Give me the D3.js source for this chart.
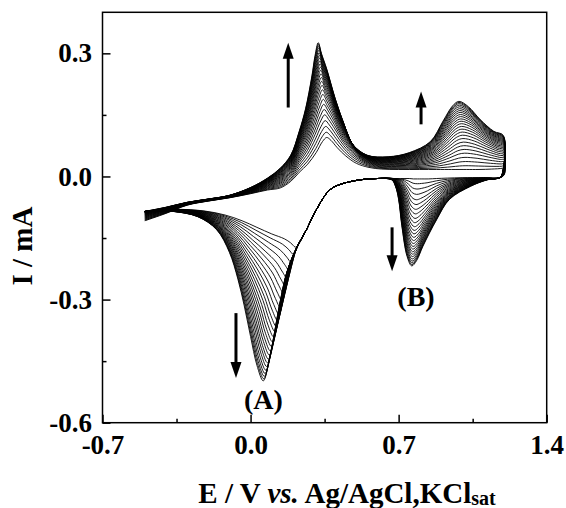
<!DOCTYPE html>
<html lang="en">
<head>
<meta charset="UTF-8">
<title>CV cycles</title>
<script src="https://d3js.org/d3.v7.min.js"></script>
<style>
  body { margin: 0; background: #fff; }
  svg text { font-family: "Liberation Serif", "Times New Roman", serif; font-weight: bold; fill: #000; }
  .cycle { fill: none; stroke: #000; stroke-width: 0.9px; stroke-linejoin: round; }
  .axis path { display: none; }
  .axis line { stroke: #000; stroke-width: 1.5px; }
  .frame { fill: none; stroke: #000; stroke-width: 1.5px; }
</style>
</head>
<body>
<script>
  // first cycle (inner) and last cycle (outer): forward sweep -0.5 -> 1.2 V, then back
  const firstE = [-0.50, -0.40, -0.30, -0.20, -0.10, 0.00, 0.08, 0.14, 0.19, 0.23, 0.27, 0.31, 0.34, 0.36, 0.38,
    0.41, 0.45, 0.50, 0.56, 0.62, 0.70, 0.80, 0.88, 0.95, 0.99, 1.02, 1.08, 1.14, 1.19, 1.20,
    1.20, 1.18, 1.10, 1.00, 0.93, 0.88, 0.84, 0.81, 0.79, 0.77, 0.75, 0.73, 0.71, 0.69, 0.60, 0.52, 0.42, 0.37,
    0.31, 0.265, 0.235, 0.225, 0.22, 0.215, 0.21, 0.19, 0.16, 0.10, 0.03, -0.04, -0.12, -0.22, -0.35, -0.45, -0.50];
  const firstI = [-0.108, -0.090, -0.070, -0.060, -0.052, -0.042, -0.033, -0.028, -0.012, 0.010, 0.030, 0.058, 0.085, 0.095, 0.088,
    0.070, 0.050, 0.032, 0.022, 0.018, 0.017, 0.017, 0.017, 0.017, 0.017, 0.017, 0.017, 0.018, 0.020, 0.022,
    0.005, -0.003, -0.003, -0.003, -0.004, -0.005, -0.006, -0.006, -0.006, -0.006, -0.005, -0.005, -0.005, -0.005, -0.005, -0.008, -0.020, -0.035,
    -0.082, -0.129, -0.158, -0.166, -0.170, -0.172, -0.172, -0.162, -0.152, -0.140, -0.124, -0.108, -0.094, -0.084, -0.080, -0.082, -0.085];
  const lastE = [-0.50, -0.40, -0.30, -0.20, -0.10, 0.00, 0.08, 0.14, 0.19, 0.23, 0.26, 0.29, 0.305, 0.32, 0.335,
    0.36, 0.40, 0.44, 0.48, 0.55, 0.65, 0.75, 0.85, 0.91, 0.955, 0.985, 1.03, 1.085, 1.15, 1.195,
    1.195, 1.18, 1.12, 1.04, 0.94, 0.88, 0.815, 0.785, 0.762, 0.74, 0.715, 0.70, 0.685, 0.667, 0.60, 0.52, 0.42, 0.37,
    0.31, 0.265, 0.218, 0.171, 0.139, 0.092, 0.06, 0.03, 0.00, -0.03, -0.06, -0.10, -0.16, -0.25, -0.37, -0.45, -0.50];
  const lastI = [-0.085, -0.075, -0.063, -0.055, -0.046, -0.027, -0.004, 0.020, 0.052, 0.110, 0.165, 0.245, 0.295, 0.326, 0.300,
    0.262, 0.190, 0.130, 0.080, 0.052, 0.048, 0.058, 0.085, 0.135, 0.172, 0.183, 0.170, 0.139, 0.110, 0.100,
    0.020, -0.002, -0.008, -0.024, -0.056, -0.105, -0.170, -0.205, -0.218, -0.195, -0.120, -0.056, -0.024, -0.008, -0.005, -0.008, -0.020, -0.035,
    -0.082, -0.129, -0.173, -0.234, -0.307, -0.436, -0.498, -0.460, -0.390, -0.315, -0.250, -0.185, -0.130, -0.098, -0.085, -0.084, -0.086];

  // cathodic peak (A) current of every cycle, mA
  const peakA = [-0.172, -0.190, -0.210, -0.230, -0.250, -0.268, -0.286, -0.303, -0.320, -0.336, -0.351, -0.365, -0.378,
    -0.391, -0.403, -0.414, -0.425, -0.435, -0.445, -0.454, -0.463, -0.472, -0.480, -0.487, -0.493, -0.498];

  const xTicks = [-0.7, 0.0, 0.7, 1.4];
  const xMinor = [-0.35, 0.35, 1.05];
  const yTicks = [-0.6, -0.3, 0.0, 0.3];
  const yMinor = [-0.45, -0.15, 0.15];

  // arrows: [E, I from, I to]
  const arrows = [[0.178, 0.168, 0.326], [-0.069, -0.333, -0.491], [0.806, 0.127, 0.207], [0.669, -0.124, -0.231]];
  const peakLabels = [{ t: "(A)", E: 0.061, I: -0.567 }, { t: "(B)", E: 0.782, I: -0.316 }];

  const W = 566, H = 508;
  const margin = { top: 12.3, right: 19.3, bottom: 85.3, left: 102.5 };
  const width = W - margin.left - margin.right,
    height = H - margin.top - margin.bottom;

  const svg = d3.select("body").append("svg")
    .attr("width", W).attr("height", H);
  const g = svg.append("g")
    .attr("transform", "translate(" + margin.left + "," + margin.top + ")");

  const x = d3.scaleLinear().domain([-0.7, 1.4]).range([0, width]);
  const y = d3.scaleLinear().domain([-0.6, 0.4]).range([height, 0]);

  // cycles, inner to outer
  const p0 = peakA[0], pN = peakA[peakA.length - 1];
  const line = d3.line()
    .x(d => x(d[0])).y(d => y(d[1]))
    .curve(d3.curveCatmullRom.alpha(0.5));
  peakA.forEach(p => {
    const w = (p - p0) / (pN - p0);
    const pts = firstE.map((e, i) => [
      e + w * (lastE[i] - e),
      firstI[i] + w * (lastI[i] - firstI[i])
    ]);
    g.append("path").attr("class", "cycle").attr("d", line(pts));
  });

  // axes
  const fmt = d => d.toFixed(1);
  g.append("g").attr("class", "axis")
    .attr("transform", "translate(0," + height + ")")
    .call(d3.axisBottom(x).tickValues(xTicks).tickSize(-8).tickPadding(12).tickFormat(fmt))
    .selectAll("text").style("font-size", "27px");
  g.append("g").attr("class", "axis")
    .attr("transform", "translate(0," + height + ")")
    .call(d3.axisBottom(x).tickValues(xMinor).tickSize(-4).tickFormat(""));
  g.append("g").attr("class", "axis")
    .call(d3.axisLeft(y).tickValues(yTicks).tickSize(-8).tickPadding(10.5).tickFormat(fmt))
    .selectAll("text").style("font-size", "27px");
  g.append("g").attr("class", "axis")
    .call(d3.axisLeft(y).tickValues(yMinor).tickSize(-4).tickFormat(""));
  g.append("rect").attr("class", "frame")
    .attr("width", width).attr("height", height);

  // arrows
  arrows.forEach(a => {
    const ax = x(a[0]), y1 = y(a[1]), y2 = y(a[2]);
    const dir = y2 < y1 ? 1 : -1;
    const headL = 16, headW = 5.5;
    g.append("line")
      .attr("x1", ax).attr("x2", ax)
      .attr("y1", y1).attr("y2", y2 + dir * (headL - 2))
      .attr("stroke", "#000").attr("stroke-width", 3);
    g.append("path")
      .attr("d", "M" + ax + "," + y2 + "L" + (ax - headW) + "," + (y2 + dir * headL) +
        "L" + (ax + headW) + "," + (y2 + dir * headL) + "Z")
      .attr("fill", "#000");
  });

  g.selectAll(".plabel").data(peakLabels).enter().append("text")
    .attr("class", "plabel")
    .attr("x", d => x(d.E)).attr("y", d => y(d.I))
    .attr("text-anchor", "middle")
    .style("font-size", "28px")
    .text(d => d.t);

  // axis titles
  svg.append("text")
    .attr("transform", "translate(31.5," + 246 + ") rotate(-90)")
    .attr("text-anchor", "middle")
    .style("font-size", "29px")
    .text("I / mA");

  const xt = svg.append("text")
    .attr("x", 347).attr("y", 503)
    .attr("text-anchor", "middle")
    .style("font-size", "29px");
  xt.append("tspan").text("E / V ");
  xt.append("tspan").style("font-style", "italic").text("vs.");
  xt.append("tspan").text(" Ag/AgCl,KCl");
  xt.append("tspan").style("font-size", "20px").attr("dy", 2).text("sat");
</script>
</body>
</html>
